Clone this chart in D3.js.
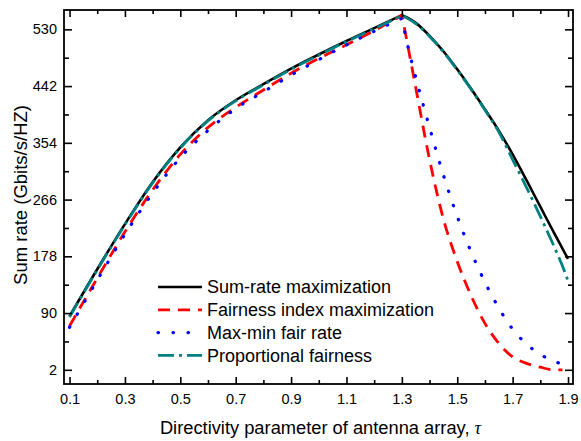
<!DOCTYPE html>
<html>
<head>
<meta charset="utf-8">
<script src="https://cdn.jsdelivr.net/npm/d3@7"></script>
<style>
  body { margin: 0; background: #fff; }
  text { font-family: "Liberation Sans", Arial, sans-serif; fill: #000; }
</style>
</head>
<body>
<div id="chart"></div>
<script>
// directivity parameter samples
var tau = [0.1, 0.2, 0.3, 0.4, 0.5, 0.6, 0.7, 0.8, 0.9, 1.0, 1.1, 1.2, 1.3,
           1.32, 1.35, 1.4, 1.45, 1.5, 1.55, 1.6, 1.65, 1.7, 1.75, 1.8, 1.85, 1.88, 1.9];

// sum rate of each scheme (Gbits/s/HZ)
var sumRate   = [85, 158, 228, 293, 347, 389, 420, 445, 469, 491, 512, 532, 552,
                 548, 540, 520, 496, 468, 438, 406, 373, 336, 296, 255, 214, 190, 174];
var fairIndex = [70, 144, 216, 281, 336, 378, 409, 436, 462, 485, 506, 528, 552,
                 508, 440, 328, 236, 170, 117, 74, 43, 22, 12, 6, 2, 2, null];
var maxMin    = [68, 141, 212, 276, 331, 373, 407, 433, 459, 483, 506, 527, 547,
                 507, 456, 378, 304, 240, 185, 138, 98, 65, 42, 26, 15, 11, null];
var propFair  = [84, 157, 227, 292, 346, 388, 419, 444, 468, 490, 511, 531, 551,
                 547, 539, 519, 495, 467, 437, 405, 371, 328, 285, 240, 193, 163, 140];

var seriesNames = ["Sum-rate maximization", "Fairness index maximization",
                   "Max-min fair rate", "Proportional fairness"];

var xMajor = [0.1, 0.3, 0.5, 0.7, 0.9, 1.1, 1.3, 1.5, 1.7, 1.9];
var xMinor = [0.2, 0.4, 0.6, 0.8, 1.0, 1.2, 1.4, 1.6, 1.8];
var yMajor = [2, 90, 178, 266, 354, 442, 530];
var yMinor = [46, 134, 222, 310, 398, 486];

var peakTau = 1.3;

var W = 581, H = 441;
var margin = {top: 10, right: 8, bottom: 57, left: 64},
    width = W - margin.left - margin.right,
    height = H - margin.top - margin.bottom;

var svg = d3.select("#chart").append("svg")
    .attr("width", W)
    .attr("height", H)
  .append("g")
    .attr("transform", "translate(" + margin.left + "," + margin.top + ")");

var x = d3.scaleLinear().domain([0.08, 1.918]).range([0, width]);
var y = d3.scaleLinear().domain([-20, 560]).range([height, 0]);

//series styles
var styles = [
  {values: sumRate,   color: "#000000", width: 2.6, dash: null,        cap: "butt"},
  {values: fairIndex, color: "#ff0000", width: 2.8, dash: "12,8",      cap: "butt"},
  {values: maxMin,    color: "#0000ff", width: 3.2, dash: "0.5,14.5",  cap: "round"},
  {values: propFair,  color: "#008080", width: 2.8, dash: "16,5,3,5",  cap: "butt"}
];

//smooth each side of the peak separately so the corner stays sharp
var line = d3.line()
    .defined(function(d) { return d[1] != null; })
    .curve(d3.curveMonotoneX)
    .x(function(d) { return x(d[0]); })
    .y(function(d) { return y(d[1]); });

styles.forEach(function(s) {
  var pts = tau.map(function(t, i) { return [t, s.values[i]]; });
  var left = pts.filter(function(d) { return d[0] <= peakTau; });
  var right = pts.filter(function(d) { return d[0] >= peakTau && d[1] != null; });
  var d = line(left) + line(right).replace(/^M[^CLM]*/, "");
  svg.append("path")
      .attr("fill", "none")
      .attr("stroke", s.color)
      .attr("stroke-width", s.width)
      .attr("stroke-dasharray", s.dash)
      .attr("stroke-linecap", s.cap)
      .attr("stroke-linejoin", "round")
      .attr("d", d);
});

//axes, ticks point inward on all four sides
function noLabel() { return ""; }

svg.append("g").attr("transform", "translate(0," + height + ")")
    .call(d3.axisBottom(x).tickValues(xMajor).tickSize(-7).tickSizeOuter(0)
          .tickPadding(10).tickFormat(d3.format(".1f")));
svg.append("g").attr("transform", "translate(0," + height + ")")
    .call(d3.axisBottom(x).tickValues(xMinor).tickSize(-4).tickSizeOuter(0).tickFormat(noLabel));
svg.append("g")
    .call(d3.axisTop(x).tickValues(xMajor).tickSize(-7).tickSizeOuter(0).tickFormat(noLabel));
svg.append("g")
    .call(d3.axisTop(x).tickValues(xMinor).tickSize(-4).tickSizeOuter(0).tickFormat(noLabel));

svg.append("g")
    .call(d3.axisLeft(y).tickValues(yMajor).tickSize(-8).tickSizeOuter(0).tickPadding(7));
svg.append("g")
    .call(d3.axisLeft(y).tickValues(yMinor).tickSize(-5).tickSizeOuter(0).tickFormat(noLabel));
svg.append("g").attr("transform", "translate(" + width + ",0)")
    .call(d3.axisRight(y).tickValues(yMajor).tickSize(-8).tickSizeOuter(0).tickFormat(noLabel));
svg.append("g").attr("transform", "translate(" + width + ",0)")
    .call(d3.axisRight(y).tickValues(yMinor).tickSize(-5).tickSizeOuter(0).tickFormat(noLabel));

svg.selectAll(".domain").remove();
svg.selectAll(".tick line").attr("stroke", "#000").attr("stroke-width", 1.6);
svg.selectAll(".tick text")
    .attr("font-family", "'Liberation Sans', Arial, sans-serif")
    .attr("font-size", "14.5px")
    .attr("fill", "#000");

svg.append("rect")
    .attr("width", width)
    .attr("height", height)
    .attr("fill", "none")
    .attr("stroke", "#000")
    .attr("stroke-width", 1.8);

//axis titles
var xt = svg.append("text")
    .attr("x", width / 2 + 2)
    .attr("y", height + 50)
    .attr("text-anchor", "middle")
    .attr("font-size", "18.3px")
    .text("Directivity parameter of antenna array, ");
xt.append("tspan")
    .attr("font-family", "'Liberation Serif', 'DejaVu Serif', serif")
    .attr("font-style", "italic")
    .text("τ");

svg.append("text")
    .attr("transform", "translate(" + (-margin.left + 27) + "," + (height / 2 - 2) + ") rotate(-90)")
    .attr("text-anchor", "middle")
    .attr("font-size", "18.5px")
    .text("Sum rate (Gbits/s/HZ)");

//legend
var legend = svg.append("g").attr("transform", "translate(94,277)");
styles.forEach(function(s, i) {
  var row = legend.append("g").attr("transform", "translate(0," + (i * 22.8) + ")");
  row.append("line")
      .attr("x1", 0).attr("x2", 44)
      .attr("stroke", s.color)
      .attr("stroke-width", s.width)
      .attr("stroke-dasharray", s.dash)
      .attr("stroke-linecap", s.cap);
  row.append("text")
      .attr("x", 49)
      .attr("dy", "0.36em")
      .attr("font-size", "18px")
      .text(seriesNames[i]);
});
</script>
</body>
</html>
